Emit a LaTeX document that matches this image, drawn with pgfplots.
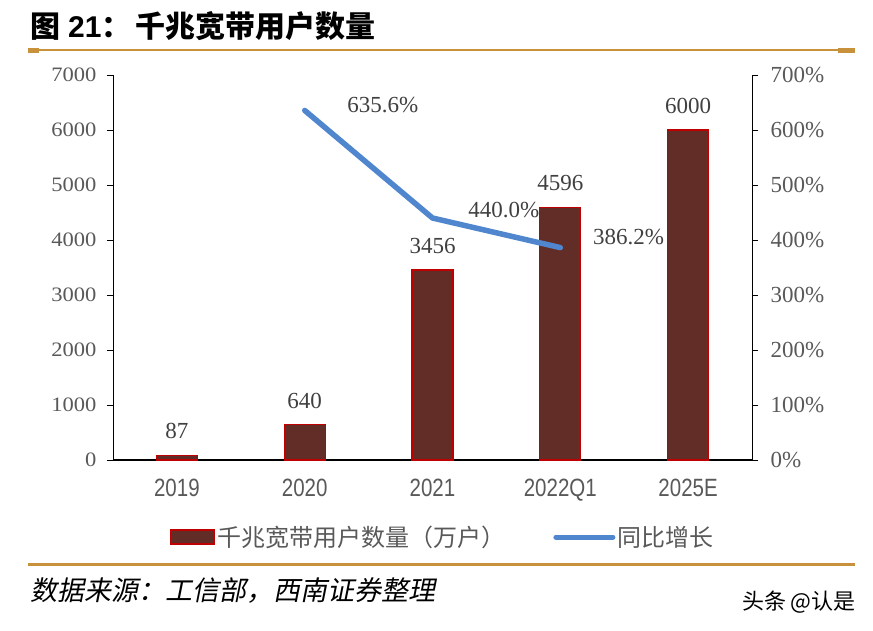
\documentclass[border=0pt]{standalone}
\usepackage{fontspec}
\usepackage{pgfplots}
\pgfplotsset{compat=1.18}
\setmainfont{Liberation Serif}
\newfontfamily\cjk{Noto Sans CJK SC}
\newfontfamily\cjkslant[FakeSlant=0.2]{Noto Sans CJK SC}
\newfontfamily\xsans[FakeStretch=0.82]{Liberation Sans}
\newfontfamily\sans{Liberation Sans}
\newfontfamily\lwide[FakeStretch=1.1]{Liberation Serif}
\definecolor{barcol}{RGB}{98,45,38}
\definecolor{barred}{RGB}{192,0,0}
\definecolor{linecol}{RGB}{79,134,206}
\definecolor{gold}{RGB}{200,145,60}
\definecolor{tickgray}{RGB}{89,89,89}
\definecolor{labgray}{RGB}{64,64,64}
\pgfplotstableread{
x y dx dy
1 635.6 40 5
2 440.0 33 8
3 386.2 30 11
}\growth
\begin{document}
\begin{tikzpicture}[x=1pt,y=1pt]
\path[use as bounding box] (0,0) rectangle (873,-630);
% title
\node[anchor=base west, inner sep=0] at (30,-37) {\fontsize{30}{30}\selectfont\cjk\bfseries 图\hspace{8pt}{\sans\bfseries 21}：\hspace{4pt}千兆宽带用户数量};
\fill[gold] (28,-49.2) rectangle (855,-50.8);
\fill[gold] (28,-48.3) rectangle (39,-52.5);
\fill[gold] (838,-48.3) rectangle (855,-52.5);
\fill[gold] (28,-563) rectangle (855,-566);
\node[anchor=base west, inner sep=0] at (30,-600) {\fontsize{27}{27}\selectfont\cjkslant 数据来源：工信部，西南证券整理};
\node[anchor=base east, inner sep=0] at (856,-609) {\fontsize{22}{22}\selectfont\cjk 头条 @认是};

\begin{axis}[
 at={(113pt,-460pt)}, anchor=south west, scale only axis, width=639pt, height=385pt,
 xmin=-0.5, xmax=4.5, ymin=0, ymax=7000,
 axis x line*=bottom, axis y line*=left,
 xtick={0,...,4}, xticklabels={2019,2020,2021,2022Q1,2025E},
 ytick={0,1000,...,7000},
 tick align=outside, major tick length=6pt,
 x tick style={draw=none}, y tick style={black, line width=0.8pt},
 axis line style={black, line width=0.9pt},
 x axis line style={line width=1.6pt},
 /pgf/number format/assume math mode=true, /pgf/number format/1000 sep={},
 yticklabel style={font=\fontsize{20.5}{20.5}\selectfont\lwide, text=tickgray, xshift=-7pt},
 xticklabel style={font=\fontsize{25}{25}\selectfont\xsans, text=tickgray, yshift=-10pt},
 ybar, bar width=41pt,
 nodes near coords,
 every node near coord/.append style={font=\fontsize{23}{23}\selectfont, text=labgray, anchor=base, inner sep=0pt, yshift=16.5pt},
 clip=false,
]
\addplot[fill=barcol, draw=barred, line width=1.2pt] coordinates {(0,87) (1,640) (2,3456) (3,4596) (4,6000)};
\end{axis}

\begin{axis}[
 at={(113pt,-460pt)}, anchor=south west, scale only axis, width=639pt, height=385pt,
 xmin=-0.5, xmax=4.5, ymin=0, ymax=700,
 axis x line=none, axis y line*=right,
 ytick={0,100,...,700},
 yticklabel={\pgfmathprintnumber{\tick}\%},
 tick align=outside, major tick length=6pt,
 y tick style={black, line width=0.8pt},
 axis line style={black, line width=0.9pt},
 /pgf/number format/assume math mode=true, /pgf/number format/1000 sep={},
 yticklabel style={font=\fontsize{23}{23}\selectfont, text=tickgray, xshift=9pt},
 legend columns=2,
 legend style={at={(0.0845,-0.2)}, anchor=west, draw=none, fill=none,
   font=\fontsize{24}{24}\selectfont\cjk, text=tickgray,
   /tikz/every even column/.append style={column sep=46pt}},
 clip=false,
]
\addlegendimage{legend image code/.code={\draw[fill=barcol, draw=barred, line width=1.2pt] (0pt,-7pt) rectangle (44pt,7pt);}}
\addlegendentry{千兆宽带用户数量（万户）}
\addplot[linecol, line width=5.5pt, line join=round, line cap=round, mark=none,
  visualization depends on={\thisrow{dx} \as \dx},
  visualization depends on={\thisrow{dy} \as \dy},
  nodes near coords={\pgfmathprintnumber[fixed,fixed zerofill,precision=1]{\pgfplotspointmeta}\%},
  every node near coord/.append style={font=\fontsize{23}{23}\selectfont, text=labgray, anchor=west, inner sep=0pt, xshift=\dx pt, yshift=\dy pt},
  legend image code/.code={\draw[linecol, line width=5pt, line cap=round] (0pt,0pt) -- (57pt,0pt);}
] table[x=x, y=y] {\growth};
\addlegendentry{同比增长}
\end{axis}
\end{tikzpicture}
\end{document}
